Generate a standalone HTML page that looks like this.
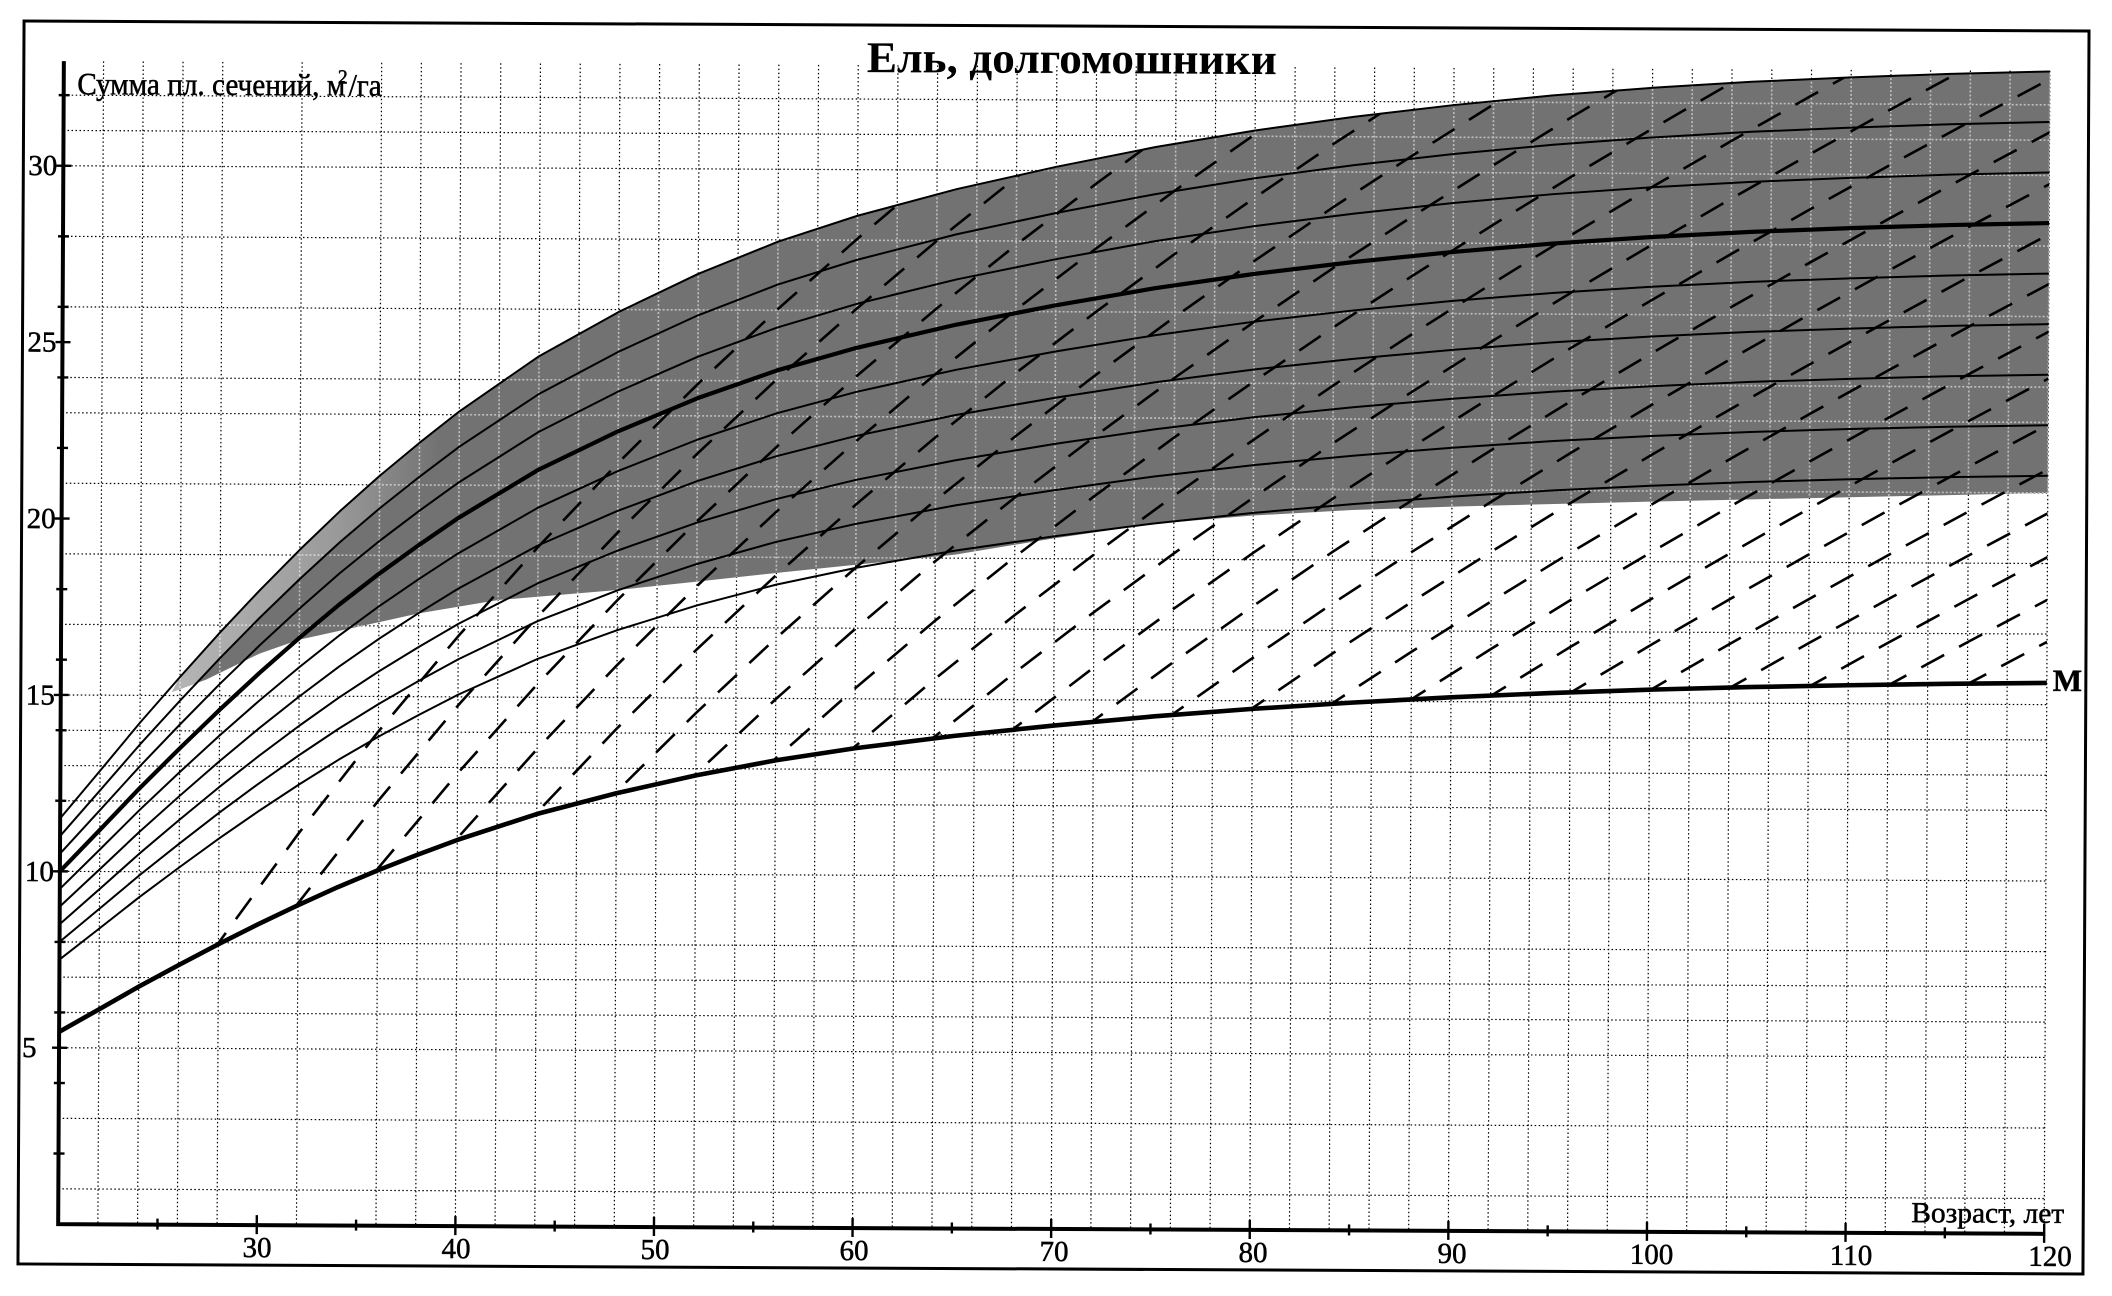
<!DOCTYPE html>
<html>
<head>
<meta charset="utf-8">
<style>
html,body{margin:0;padding:0;background:#fff;width:2112px;height:1296px;overflow:hidden;}
svg{display:block;overflow:hidden;}
</style>
</head>
<body>
<svg width="2112" height="1296" viewBox="0 0 2112 1296" xmlns="http://www.w3.org/2000/svg" overflow="hidden">
<rect x="0" y="0" width="2112" height="1296" fill="#fff"/>
<defs>
  <path id="fan" fill="none" vector-effect="non-scaling-stroke" stroke-linejoin="round"
    d="M0,10 L2,11.18 L4,12.37 L6,13.5 L8,14.6 L10,15.65 L12,16.65 L14,17.6 L16,18.48 L18,19.3 L20,20.08 L24,21.45 L28,22.55 L32,23.5 L36,24.3 L40,24.95 L45,25.62 L50,26.18 L55,26.68 L60,27.1 L65,27.45 L70,27.75 L75,28 L80,28.2 L85,28.36 L90,28.48 L95,28.58 L100,28.65"/>
  <clipPath id="dc">
    <path transform="translate(61,1229) scale(19.86,-35.28)"
      d="M0,11.5 L2,12.857 L4,14.226 L6,15.525 L8,16.79 L10,17.998 L12,19.148 L14,20.24 L16,21.252 L18,22.195 L20,23.092 L24,24.668 L28,25.933 L32,27.025 L36,27.945 L40,28.693 L45,29.463 L50,30.107 L55,30.682 L60,31.165 L65,31.568 L70,31.913 L75,32.2 L80,32.43 L85,32.614 L90,32.752 L95,32.867 L100,32.948 L100,15.614 L95,15.576 L90,15.522 L85,15.456 L80,15.369 L75,15.26 L70,15.124 L65,14.96 L60,14.77 L55,14.541 L50,14.268 L45,13.963 L40,13.598 L36,13.244 L32,12.808 L28,12.29 L24,11.69 L20,10.944 L18,10.519 L16,10.072 L14,9.592 L12,9.074 L10,8.529 L8,7.957 L6,7.358 L4,6.742 L2,6.093 L0,5.45 Z"/>
  </clipPath>
  <path id="band" transform="translate(61,1229) scale(19.86,-35.28)"
    d="M5.6,15.1 L6,15.525 L8,16.79 L10,17.998 L12,19.148 L14,20.24 L16,21.252 L18,22.195 L20,23.092 L24,24.668 L28,25.933 L32,27.025 L36,27.945 L40,28.693 L45,29.463 L50,30.107 L55,30.682 L60,31.165 L65,31.568 L70,31.913 L75,32.2 L80,32.43 L85,32.614 L90,32.752 L95,32.867 L100,32.948 L100,21.0 L90,20.85 L80,20.7 L70,20.53 L65,20.42 L60,20.25 L55,20.0 L50,19.58 L45,19.1 L40,18.8 L37,18.62 L32,18.3 L28,18.05 L22,17.75 L18,17.36 L15,16.98 L12,16.6 L10,16.2 L7.3,15.45 Z"/>
  <clipPath id="bc"><use href="#band"/></clipPath>
  <linearGradient id="lg" gradientUnits="userSpaceOnUse" x1="6" y1="0" x2="19" y2="0">
    <stop offset="0" stop-color="#b4b4b4"/>
    <stop offset="0.6" stop-color="#9a9a9a"/>
    <stop offset="1" stop-color="#727272"/>
  </linearGradient>
  <path id="grid" fill="none"
    d="M61,1193.7 H2047 M61,1123.2 H2047 M61,1052.6 H2047 M61,1017.3 H2047 M61,982.0 H2047 M61,946.8 H2047 M61,876.2 H2047 M61,805.6 H2047 M61,770.4 H2047 M61,735.1 H2047 M61,699.8 H2047 M61,629.2 H2047 M61,558.7 H2047 M61,488.1 H2047 M61,417.6 H2047 M61,382.3 H2047 M61,311.7 H2047 M61,241.2 H2047 M61,170.6 H2047 M61,135.3 H2047 M61,100.0 H2047
       M100.7,66 V1229 M140.4,66 V1229 M180.2,66 V1229 M219.9,66 V1229 M299.3,66 V1229 M378.8,66 V1229 M418.5,66 V1229 M458.2,66 V1229 M497.9,66 V1229 M537.6,66 V1229 M577.4,66 V1229 M617.1,66 V1229 M656.8,66 V1229 M696.5,66 V1229 M736.2,66 V1229 M776.0,66 V1229 M815.7,66 V1229 M855.4,66 V1229 M895.1,66 V1229 M934.8,66 V1229 M974.6,66 V1229 M1014.3,66 V1229 M1054.0,66 V1229 M1093.7,66 V1229 M1133.4,66 V1229 M1173.2,66 V1229 M1212.9,66 V1229 M1252.6,66 V1229 M1292.3,66 V1229 M1332.0,66 V1229 M1371.8,66 V1229 M1411.5,66 V1229 M1451.2,66 V1229 M1490.9,66 V1229 M1530.6,66 V1229 M1570.4,66 V1229 M1610.1,66 V1229 M1649.8,66 V1229 M1689.5,66 V1229 M1729.2,66 V1229 M1769.0,66 V1229 M1808.7,66 V1229 M1848.4,66 V1229 M1888.1,66 V1229 M1927.8,66 V1229 M1967.6,66 V1229 M2007.3,66 V1229 M2047.0,66 V1229"/>
</defs>

<g transform="rotate(0.28 1056 648)">
  <!-- outer frame -->
  <rect x="21" y="26" width="2065" height="1243" fill="none" stroke="#000" stroke-width="3"/>

  <!-- grid -->
  <use href="#grid" stroke="#000" stroke-width="1.2" stroke-dasharray="1.5 2.5"/>

  <!-- shaded band -->
  <use href="#band" fill="#727272"/>
  <g clip-path="url(#bc)">
    <path transform="translate(61,1229) scale(19.86,-35.28)" fill="url(#lg)"
      d="M5,14.9 L6,15.525 L8,16.79 L10,17.998 L12,19.148 L14,20.24 L16,21.252 L18,22.195 L19,22.65 L19,21.68 L18,21.23 L16,20.328 L14,19.36 L12,18.315 L10,17.215 L8,16.06 L6,14.85 Z"/>
    <use href="#grid" stroke="#fff" stroke-width="1.6" stroke-dasharray="2 2" opacity="0.55"/>
  </g>

  <!-- dashed family -->
  <g clip-path="url(#dc)" stroke="#000" stroke-width="2.6" stroke-dasharray="26 17" fill="none" stroke-linejoin="round">
    <path transform="translate(0,444.4)" d="M140.4,620.9 L219.9,502.7 L299.3,393.0 L378.8,290.4 L458.2,194.7 L537.6,105.1 L617.1,20.8 L696.5,-58.6 L776.0,-133.7 L855.4,-204.6 L934.8,-272.4"/>
    <path transform="translate(0,513.9)" d="M219.9,502.7 L299.3,393.0 L378.8,290.4 L458.2,194.7 L537.6,105.1 L617.1,20.8 L696.5,-58.6 L776.0,-133.7 L855.4,-204.6 L934.8,-272.4 L1014.3,-336.6 L1093.7,-397.9"/>
    <path transform="translate(0,581.6)" d="M299.3,393.0 L378.8,290.4 L458.2,194.7 L537.6,105.1 L617.1,20.8 L696.5,-58.6 L776.0,-133.7 L855.4,-204.6 L934.8,-272.4 L1014.3,-336.6 L1093.7,-397.9 L1173.2,-456.9"/>
    <path transform="translate(0,646.5)" d="M378.8,290.4 L458.2,194.7 L537.6,105.1 L617.1,20.8 L696.5,-58.6 L776.0,-133.7 L855.4,-204.6 L934.8,-272.4 L1014.3,-336.6 L1093.7,-397.9 L1173.2,-456.9 L1252.6,-513.3 L1332.0,-568.0"/>
    <path transform="translate(0,710.0)" d="M458.2,194.7 L537.6,105.1 L617.1,20.8 L696.5,-58.6 L776.0,-133.7 L855.4,-204.6 L934.8,-272.4 L1014.3,-336.6 L1093.7,-397.9 L1173.2,-456.9 L1252.6,-513.3 L1332.0,-568.0 L1411.5,-620.3"/>
    <path transform="translate(0,773.2)" d="M537.6,105.1 L617.1,20.8 L696.5,-58.6 L776.0,-133.7 L855.4,-204.6 L934.8,-272.4 L1014.3,-336.6 L1093.7,-397.9 L1173.2,-456.9 L1252.6,-513.3 L1332.0,-568.0 L1411.5,-620.3 L1490.9,-671.0 L1570.4,-720.4"/>
    <path transform="translate(0,834.2)" d="M617.1,20.8 L696.5,-58.6 L776.0,-133.7 L855.4,-204.6 L934.8,-272.4 L1014.3,-336.6 L1093.7,-397.9 L1173.2,-456.9 L1252.6,-513.3 L1332.0,-568.0 L1411.5,-620.3 L1490.9,-671.0 L1570.4,-720.4 L1649.8,-768.0"/>
    <path transform="translate(0,893.8)" d="M696.5,-58.6 L776.0,-133.7 L855.4,-204.6 L934.8,-272.4 L1014.3,-336.6 L1093.7,-397.9 L1173.2,-456.9 L1252.6,-513.3 L1332.0,-568.0 L1411.5,-620.3 L1490.9,-671.0 L1570.4,-720.4 L1649.8,-768.0 L1729.2,-814.6 L1808.7,-860.1"/>
    <path transform="translate(0,952.1)" d="M776.0,-133.7 L855.4,-204.6 L934.8,-272.4 L1014.3,-336.6 L1093.7,-397.9 L1173.2,-456.9 L1252.6,-513.3 L1332.0,-568.0 L1411.5,-620.3 L1490.9,-671.0 L1570.4,-720.4 L1649.8,-768.0 L1729.2,-814.6 L1808.7,-860.1 L1888.1,-904.6"/>
    <path transform="translate(0,1009.9)" d="M855.4,-204.6 L934.8,-272.4 L1014.3,-336.6 L1093.7,-397.9 L1173.2,-456.9 L1252.6,-513.3 L1332.0,-568.0 L1411.5,-620.3 L1490.9,-671.0 L1570.4,-720.4 L1649.8,-768.0 L1729.2,-814.6 L1808.7,-860.1 L1888.1,-904.6 L1967.6,-948.3"/>
    <path transform="translate(0,1065.3)" d="M934.8,-272.4 L1014.3,-336.6 L1093.7,-397.9 L1173.2,-456.9 L1252.6,-513.3 L1332.0,-568.0 L1411.5,-620.3 L1490.9,-671.0 L1570.4,-720.4 L1649.8,-768.0 L1729.2,-814.6 L1808.7,-860.1 L1888.1,-904.6 L1967.6,-948.3 L2047.0,-991.0"/>
    <path transform="translate(0,1118.6)" d="M1014.3,-336.6 L1093.7,-397.9 L1173.2,-456.9 L1252.6,-513.3 L1332.0,-568.0 L1411.5,-620.3 L1490.9,-671.0 L1570.4,-720.4 L1649.8,-768.0 L1729.2,-814.6 L1808.7,-860.1 L1888.1,-904.6 L1967.6,-948.3 L2047.0,-991.0"/>
    <path transform="translate(0,1170.4)" d="M1093.7,-397.9 L1173.2,-456.9 L1252.6,-513.3 L1332.0,-568.0 L1411.5,-620.3 L1490.9,-671.0 L1570.4,-720.4 L1649.8,-768.0 L1729.2,-814.6 L1808.7,-860.1 L1888.1,-904.6 L1967.6,-948.3 L2047.0,-991.0"/>
    <path transform="translate(0,1220.5)" d="M1173.2,-456.9 L1252.6,-513.3 L1332.0,-568.0 L1411.5,-620.3 L1490.9,-671.0 L1570.4,-720.4 L1649.8,-768.0 L1729.2,-814.6 L1808.7,-860.1 L1888.1,-904.6 L1967.6,-948.3 L2047.0,-991.0"/>
    <path transform="translate(0,1270.3)" d="M1252.6,-513.3 L1332.0,-568.0 L1411.5,-620.3 L1490.9,-671.0 L1570.4,-720.4 L1649.8,-768.0 L1729.2,-814.6 L1808.7,-860.1 L1888.1,-904.6 L1967.6,-948.3 L2047.0,-991.0"/>
    <path transform="translate(0,1317.9)" d="M1332.0,-568.0 L1411.5,-620.3 L1490.9,-671.0 L1570.4,-720.4 L1649.8,-768.0 L1729.2,-814.6 L1808.7,-860.1 L1888.1,-904.6 L1967.6,-948.3 L2047.0,-991.0"/>
    <path transform="translate(0,1364.8)" d="M1411.5,-620.3 L1490.9,-671.0 L1570.4,-720.4 L1649.8,-768.0 L1729.2,-814.6 L1808.7,-860.1 L1888.1,-904.6 L1967.6,-948.3 L2047.0,-991.0"/>
    <path transform="translate(0,1410.7)" d="M1490.9,-671.0 L1570.4,-720.4 L1649.8,-768.0 L1729.2,-814.6 L1808.7,-860.1 L1888.1,-904.6 L1967.6,-948.3 L2047.0,-991.0"/>
    <path transform="translate(0,1455.5)" d="M1570.4,-720.4 L1649.8,-768.0 L1729.2,-814.6 L1808.7,-860.1 L1888.1,-904.6 L1967.6,-948.3 L2047.0,-991.0"/>
    <path transform="translate(0,1499.6)" d="M1649.8,-768.0 L1729.2,-814.6 L1808.7,-860.1 L1888.1,-904.6 L1967.6,-948.3 L2047.0,-991.0"/>
    <path transform="translate(0,1543.3)" d="M1729.2,-814.6 L1808.7,-860.1 L1888.1,-904.6 L1967.6,-948.3 L2047.0,-991.0"/>
    <path transform="translate(0,1586.0)" d="M1808.7,-860.1 L1888.1,-904.6 L1967.6,-948.3 L2047.0,-991.0"/>
    <path transform="translate(0,1628.0)" d="M1888.1,-904.6 L1967.6,-948.3 L2047.0,-991.0"/>
  </g>

  <!-- fan curves -->
  <g stroke="#000" fill="none">
    <use href="#fan" transform="translate(61,1229) scale(19.86,-26.46)" stroke-width="2"/>
    <use href="#fan" transform="translate(61,1229) scale(19.86,-28.224)" stroke-width="2"/>
    <use href="#fan" transform="translate(61,1229) scale(19.86,-29.988)" stroke-width="2"/>
    <use href="#fan" transform="translate(61,1229) scale(19.86,-31.752)" stroke-width="2"/>
    <use href="#fan" transform="translate(61,1229) scale(19.86,-33.516)" stroke-width="2"/>
    <use href="#fan" transform="translate(61,1229) scale(19.86,-35.28)" stroke-width="4.2"/>
    <use href="#fan" transform="translate(61,1229) scale(19.86,-37.044)" stroke-width="2"/>
    <use href="#fan" transform="translate(61,1229) scale(19.86,-38.808)" stroke-width="2"/>
    <use href="#fan" transform="translate(61,1229) scale(19.86,-40.572)" stroke-width="2"/>
    <!-- M curve -->
    <use href="#fan" transform="translate(61,1229) scale(19.86,-19.228)" stroke-width="4.6"/>
  </g>

  <!-- axes -->
  <path d="M61,66 V1230 M59,1229 H2048" stroke="#000" stroke-width="4" fill="none"/>

  <!-- y ticks -->
  <path stroke="#000" stroke-width="2.4" fill="none"
    d="M54,1052.6 H69 M54,876.2 H69 M54,699.8 H69 M54,523.4 H69 M54,347.0 H69 M54,170.6 H69
       M56,1158.4 H67 M56,1087.9 H67 M56,1017.3 H67 M56,946.8 H67 M56,805.6 H67 M56,735.1 H67 M56,664.5 H67 M56,594.0 H67 M56,452.8 H67 M56,382.3 H67 M56,311.7 H67 M56,241.2 H67 M56,100.0 H67"/>
  <!-- x ticks -->
  <path stroke="#000" stroke-width="2.4" fill="none"
    d="M259.6,1219 V1238 M458.2,1219 V1238 M656.8,1219 V1238 M855.4,1219 V1238 M1054.0,1219 V1238 M1252.6,1219 V1238 M1451.2,1219 V1238 M1649.8,1219 V1238 M1848.4,1219 V1238 M2047.0,1219 V1238
       M160.3,1223 V1234 M358.9,1223 V1234 M557.5,1223 V1234 M756.1,1223 V1234 M954.7,1223 V1234 M1153.3,1223 V1234 M1351.9,1223 V1234 M1550.5,1223 V1234 M1749.1,1223 V1234 M1947.7,1223 V1234"/>

  <!-- labels -->
  <g font-family="'Liberation Serif', 'DejaVu Serif', serif" fill="#000" stroke="#000" stroke-width="0.5">
    <g font-size="29">
      <text x="26" y="180">30</text>
      <text x="26" y="356.5">25</text>
      <text x="26" y="533">20</text>
      <text x="26" y="709.5">15</text>
      <text x="26" y="886">10</text>
      <text x="24" y="1062">5</text>
    </g>
    <g font-size="29" text-anchor="middle">
      <text x="260" y="1261">30</text>
      <text x="459" y="1261">40</text>
      <text x="658" y="1261">50</text>
      <text x="857" y="1261">60</text>
      <text x="1057" y="1261">70</text>
      <text x="1256" y="1261">80</text>
      <text x="1455" y="1261">90</text>
      <text x="1654.5" y="1261">100</text>
      <text x="1854" y="1261">110</text>
      <text x="2053" y="1261">120</text>
    </g>
    <text x="74.5" y="99" font-size="31" textLength="268" lengthAdjust="spacingAndGlyphs">Сумма пл. сечений, м</text>
    <text x="335" y="87" font-size="20">2</text>
    <text x="346" y="99" font-size="31" textLength="33" lengthAdjust="spacingAndGlyphs">/га</text>
    <text x="1914" y="1218" font-size="29" textLength="153" lengthAdjust="spacingAndGlyphs">Возраст, лет</text>
    <text x="2053" y="686" font-size="31" font-weight="bold">M</text>
  </g>
  <text x="1069" y="73" text-anchor="middle" font-family="'Liberation Serif', 'DejaVu Serif', serif" font-weight="bold" font-size="44" textLength="410" lengthAdjust="spacingAndGlyphs" fill="#000">Ель, долгомошники</text>
</g>
</svg>
</body>
</html>
